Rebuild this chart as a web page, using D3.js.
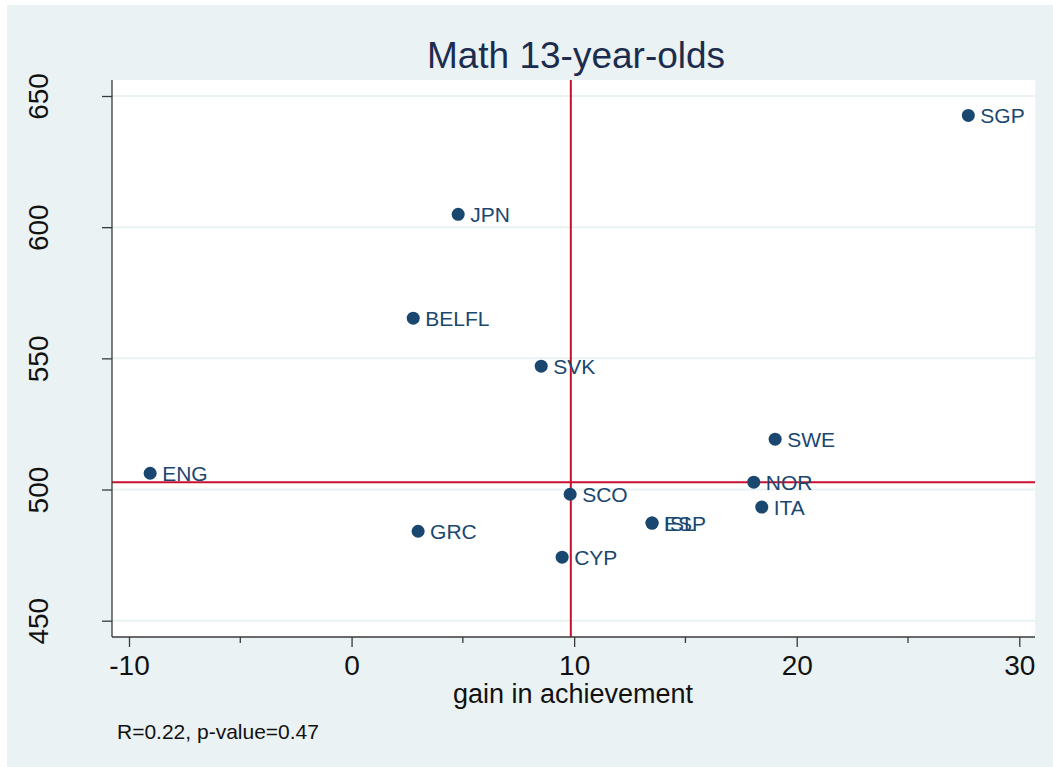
<!DOCTYPE html>
<html>
<head>
<meta charset="utf-8">
<script src="https://cdn.jsdelivr.net/npm/d3@7"></script>
<style>
  html, body { margin: 0; padding: 0; background: #ffffff; }
  svg { display: block; font-family: "Liberation Sans", Arial, sans-serif; }
</style>
</head>
<body>
<svg id="chart" width="1053" height="767"></svg>
<script>
// Country codes with gain in achievement (x) and score (y)
const countries = ["SGP", "JPN", "BELFL", "SVK", "SWE", "ENG", "NOR", "SCO", "ITA", "ESP", "ISL", "GRC", "CYP"];
const gain      = [27.71, 4.79, 2.77, 8.52, 19.03, -9.05, 18.07, 9.82, 18.43, 13.5, 13.5, 2.99, 9.46];
const score     = [642.6, 604.9, 565.3, 547.0, 519.2, 506.2, 502.8, 498.2, 493.3, 487.2, 487.2, 484.1, 474.2];

const xTicks = [-10, 0, 10, 20, 30];
const xMinorTicks = [-5, 5, 15, 25];
const yTicks = [450, 500, 550, 600, 650];

// Reference lines (means)
const refGain = 9.85;
const refScore = 502.8;

const titleText = "Math 13-year-olds";
const xTitle = "gain in achievement";
const note = "R=0.22, p-value=0.47";

const svg = d3.select("#chart");
const W = 1053, H = 767;

// Plot region bounds
const plot = { left: 112, right: 1035, top: 80, bottom: 637 };

const x = d3.scaleLinear().domain([-10, 30]).range([129, 1019.3]);
const y = d3.scaleLinear().domain([450, 650]).range([620.7, 96]);

// Graph background
svg.append("rect").attr("x", 7).attr("y", 5).attr("width", W - 7).attr("height", H - 5)
  .attr("fill", "#eaf2f3");

// Plot region
svg.append("rect")
  .attr("x", plot.left).attr("y", plot.top)
  .attr("width", plot.right - plot.left).attr("height", plot.bottom - plot.top)
  .attr("fill", "#ffffff");

// Horizontal gridlines
svg.append("g").selectAll("line").data(yTicks).join("line")
  .attr("x1", plot.left).attr("x2", plot.right)
  .attr("y1", d => y(d)).attr("y2", d => y(d))
  .attr("stroke", "#eaf2f3").attr("stroke-width", 2);

// Reference lines
svg.append("line")
  .attr("x1", x(refGain)).attr("x2", x(refGain))
  .attr("y1", plot.top).attr("y2", plot.bottom)
  .attr("stroke", "#c8102e").attr("stroke-width", 2);
svg.append("line")
  .attr("x1", plot.left).attr("x2", plot.right)
  .attr("y1", y(refScore)).attr("y2", y(refScore))
  .attr("stroke", "#c8102e").attr("stroke-width", 2);

const fmt = d => String(d);

// Y axis
const yAxis = d3.axisLeft(y).tickValues(yTicks).tickSize(10).tickPadding(0).tickFormat(fmt);
const gy = svg.append("g").attr("transform", `translate(${plot.left},0)`).call(yAxis);
gy.select(".domain").attr("d", `M0,${plot.top}V${plot.bottom}`).attr("stroke", "#3a3a3a").attr("stroke-width", 1.3);
gy.selectAll(".tick line").attr("stroke", "#3a3a3a").attr("stroke-width", 1.3);
gy.selectAll(".tick text")
  .attr("x", 0).attr("y", 0)
  .attr("transform", `translate(${38 - plot.left},0) rotate(-90)`)
  .attr("text-anchor", "middle").attr("dy", "0.36em")
  .attr("font-size", 28).attr("fill", "#111");

// X axis
const xAxis = d3.axisBottom(x).tickValues(xTicks).tickSize(10).tickPadding(6).tickFormat(fmt);
const gx = svg.append("g").attr("transform", `translate(0,${plot.bottom})`).call(xAxis);
gx.select(".domain").attr("d", `M${plot.left},0H${plot.right}`).attr("stroke", "#3a3a3a").attr("stroke-width", 1.3);
gx.selectAll(".tick line").attr("stroke", "#3a3a3a").attr("stroke-width", 1.3);
gx.selectAll(".tick text").attr("y", 38).attr("dy", 0).attr("font-size", 28).attr("fill", "#111");

// Minor x ticks
svg.append("g").selectAll("line").data(xMinorTicks).join("line")
  .attr("x1", d => x(d)).attr("x2", d => x(d))
  .attr("y1", plot.bottom).attr("y2", plot.bottom + 6)
  .attr("stroke", "#3a3a3a").attr("stroke-width", 1.3);

// Title
svg.append("text").attr("x", 576).attr("y", 68)
  .attr("text-anchor", "middle").attr("font-size", 37).attr("fill", "#1c2c4f")
  .text(titleText);

// X axis title
svg.append("text").attr("x", 573).attr("y", 703)
  .attr("text-anchor", "middle").attr("font-size", 27).attr("fill", "#111")
  .text(xTitle);

// Note
svg.append("text").attr("x", 117).attr("y", 739)
  .attr("font-size", 21).attr("fill", "#111")
  .text(note);

// Points and labels
const pts = countries.map((c, i) => ({ c, gx: gain[i], sy: score[i] }));
const gp = svg.append("g");
gp.selectAll("circle").data(pts).join("circle")
  .attr("cx", d => x(d.gx)).attr("cy", d => y(d.sy)).attr("r", 6.5)
  .attr("fill", "#1a476f");
gp.selectAll("text").data(pts).join("text")
  .attr("x", d => x(d.gx) + 12).attr("y", d => y(d.sy))
  .attr("dy", "0.36em").attr("font-size", 21).attr("fill", "#1a476f")
  .text(d => d.c);
</script>
</body>
</html>
